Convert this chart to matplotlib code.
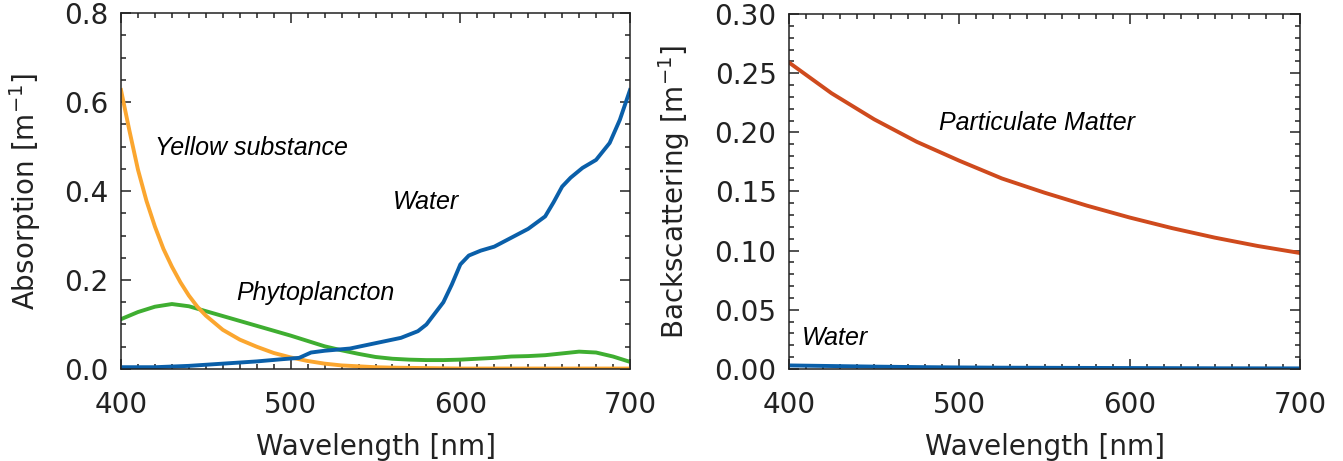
'''
Absorption and backscattering spectra of water constituents.
Two panels side by side, IDL-like look with inward ticks on every side.
'''

import numpy as np
import matplotlib.pyplot as plt
from matplotlib.ticker import MultipleLocator, FormatStrFormatter

# absorption [1/m]
wl_yellow = [400, 405, 410, 415, 420, 425, 430, 435, 440, 445, 450, 460, 470,
             480, 490, 500, 510, 520, 530, 540, 550, 560, 580, 600, 650, 700]
a_yellow = [0.627, 0.535, 0.448, 0.378, 0.32, 0.27, 0.23, 0.195, 0.165, 0.14,
            0.12, 0.088, 0.066, 0.05, 0.036, 0.026, 0.018, 0.012, 0.008,
            0.006, 0.004, 0.003, 0.002, 0.001, 0.001, 0.001]

wl_phyto = [400, 410, 420, 430, 440, 450, 460, 470, 480, 490, 500, 510, 520,
            530, 540, 550, 560, 570, 580, 590, 600, 610, 620, 630, 640, 650,
            660, 670, 680, 690, 700]
a_phyto = [0.112, 0.128, 0.14, 0.146, 0.141, 0.13, 0.119, 0.108, 0.097, 0.086,
           0.075, 0.063, 0.051, 0.042, 0.034, 0.027, 0.023, 0.021, 0.02, 0.02,
           0.021, 0.023, 0.025, 0.028, 0.029, 0.031, 0.035, 0.039, 0.037,
           0.028, 0.016]

wl_water = [400, 420, 440, 460, 480, 495, 505, 512, 520, 535, 550, 565, 575,
            580, 585, 590, 595, 600, 605, 612, 620, 630, 640, 650, 655, 660,
            665, 672, 680, 688, 694, 700]
a_water = [0.004, 0.004, 0.007, 0.012, 0.017, 0.022, 0.025, 0.037, 0.041,
           0.046, 0.058, 0.07, 0.085, 0.10, 0.125, 0.15, 0.19, 0.235, 0.255,
           0.266, 0.275, 0.295, 0.315, 0.343, 0.375, 0.41, 0.43, 0.452, 0.47,
           0.508, 0.56, 0.627]

# backscattering [1/m]
wl_bb = [400, 425, 450, 475, 500, 525, 550, 575, 600, 625, 650, 675, 700]
bb_particles = [0.259, 0.233, 0.211, 0.192, 0.176, 0.161, 0.149, 0.138, 0.128,
                0.119, 0.111, 0.104, 0.098]
bb_water = [0.003, 0.0025, 0.002, 0.0016, 0.0013, 0.0011, 0.001, 0.0009,
            0.0008, 0.0007, 0.0006, 0.00055, 0.0005]

BLUE = '#0a5fa9'
ORANGE = '#fba62f'
GREEN = '#3fae31'
RED = '#cf4a1d'

plt.rcParams['font.family'] = 'DejaVu Sans'
plt.rcParams['mathtext.fontset'] = 'dejavusans'


def style_axis(ax, ymax, ymajor, yminor, yfmt):
    '''inward ticks on all four sides, minor ticks every 10 nm'''
    ax.set_xlim(400, 700)
    ax.set_ylim(0, ymax)
    ax.xaxis.set_major_locator(MultipleLocator(100))
    ax.xaxis.set_minor_locator(MultipleLocator(10))
    ax.yaxis.set_major_locator(MultipleLocator(ymajor))
    ax.yaxis.set_minor_locator(MultipleLocator(yminor))
    ax.yaxis.set_major_formatter(FormatStrFormatter(yfmt))
    ax.tick_params(which='both', direction='in', top=True, right=True,
                   width=1.1, color='#222222', labelsize=20,
                   labelcolor='#222222')
    ax.tick_params(which='major', length=7)
    ax.tick_params(which='minor', length=3.5)
    ax.tick_params(axis='x', pad=16)
    ax.tick_params(axis='y', pad=9)
    for spine in ax.spines.values():
        spine.set_linewidth(1.1)
        spine.set_color('#222222')
    ax.set_xlabel('Wavelength [nm]', fontsize=20, color='#222222')
    ax.xaxis.set_label_coords(0.5, -0.18)


fig = plt.figure(figsize=(13.43, 4.61), dpi=100)
ax1 = fig.add_axes([0.0901, 0.1996, 0.379, 0.772])
ax2 = fig.add_axes([0.5875, 0.1996, 0.3805, 0.770])

# left panel: absorption
ax1.plot(wl_phyto, a_phyto, color=GREEN, lw=2.8)
ax1.plot(wl_yellow, a_yellow, color=ORANGE, lw=2.8)
ax1.plot(wl_water, a_water, color=BLUE, lw=2.8)
style_axis(ax1, 0.8, 0.2, 0.05, '%.1f')
ax1.set_ylabel('Absorption [m$^{-1}$]', fontsize=20, color='#222222')
ax1.yaxis.set_label_coords(-0.153, 0.5)

txt = dict(fontsize=18, style='italic', family='Liberation Sans',
           ha='left', va='baseline')
ax1.text(420, 0.481, 'Yellow substance', **txt)
ax1.text(560, 0.36, 'Water', **txt)
ax1.text(468, 0.155, 'Phytoplancton', **txt)

# right panel: backscattering
ax2.plot(wl_bb, bb_particles, color=RED, lw=2.8)
ax2.plot(wl_bb, bb_water, color=BLUE, lw=2.8)
style_axis(ax2, 0.30, 0.05, 0.01, '%.2f')
ax2.set_ylabel('Backscattering [m$^{-1}$]', fontsize=20, color='#222222')
ax2.yaxis.set_label_coords(-0.19, 0.5)

ax2.text(488, 0.202, 'Particulate Matter', **txt)
ax2.text(407.5, 0.0203, 'Water', **txt)

plt.savefig('out.png', dpi=100)
